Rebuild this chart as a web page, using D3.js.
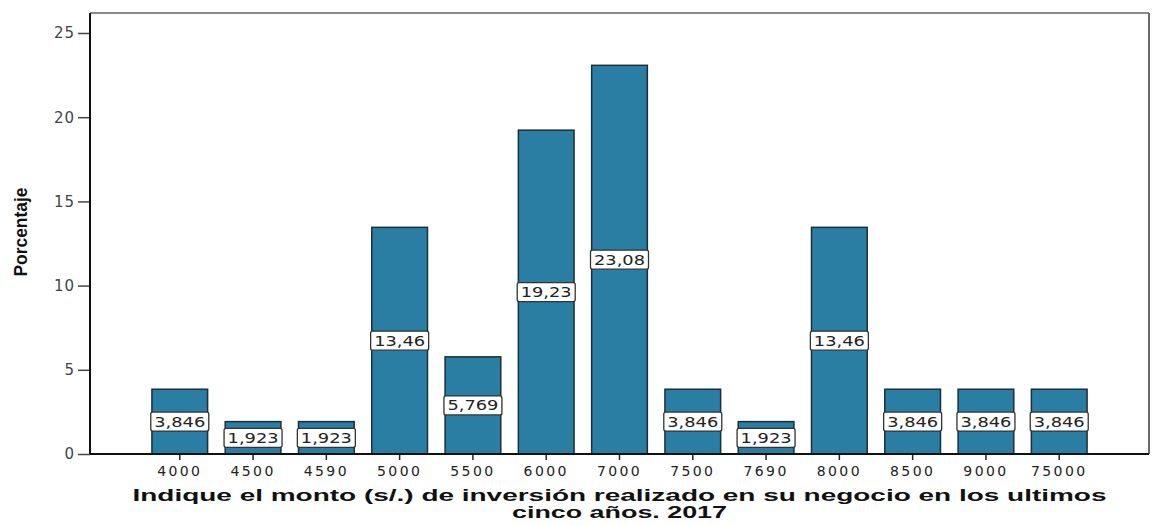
<!DOCTYPE html>
<html>
<head>
<meta charset="utf-8">
<script src="https://cdn.jsdelivr.net/npm/d3@7"></script>
<style>
  html, body { margin: 0; padding: 0; background: #fff; }
  svg { display: block; }
</style>
</head>
<body>
<svg id="chart" width="1156" height="525"></svg>
<script>
// Investment amounts (categories) and percentage of respondents
const categories = ["4000", "4500", "4590", "5000", "5500", "6000", "7000", "7500", "7690", "8000", "8500", "9000", "75000"];
const percentages = [3.846, 1.923, 1.923, 13.46, 5.769, 19.23, 23.08, 3.846, 1.923, 13.46, 3.846, 3.846, 3.846];
const yTicks = [0, 5, 10, 15, 20, 25];
const xTitleLines = ["Indique el monto (s/.) de inversión realizado en su negocio en los ultimos", "cinco años. 2017"];
const yTitle = "Porcentaje";

const svg = d3.select("#chart");
const frame = { left: 90, right: 1149, top: 13, bottom: 454 };

const x = d3.scaleBand()
  .domain(categories)
  .range([frame.left, frame.right])
  .paddingInner(0.24)
  .paddingOuter(0.845);

const y = d3.scaleLinear()
  .domain([0, 25])
  .range([frame.bottom, frame.bottom - 421]);

// Decimal comma formatting, e.g. 3,846
const fmt = v => String(v).replace(".", ",");

// Frame: top and right edges in grey
svg.append("line")
  .attr("x1", frame.left).attr("x2", frame.right)
  .attr("y1", frame.top).attr("y2", frame.top)
  .attr("stroke", "#8a8a8a").attr("stroke-width", 2);
svg.append("line")
  .attr("x1", frame.right).attr("x2", frame.right)
  .attr("y1", frame.top).attr("y2", frame.bottom)
  .attr("stroke", "#6a6a6a").attr("stroke-width", 2);

// Bars
svg.append("g").selectAll("rect")
  .data(categories)
  .join("rect")
  .attr("x", d => x(d))
  .attr("width", x.bandwidth())
  .attr("y", (d, i) => y(percentages[i]))
  .attr("height", (d, i) => y(0) - y(percentages[i]))
  .attr("fill", "#2a7ea3")
  .attr("stroke", "#1b2f38")
  .attr("stroke-width", 1.5);

// Y axis
const yAxis = svg.append("g")
  .attr("transform", `translate(${frame.left},0)`)
  .call(d3.axisLeft(y).tickValues(yTicks).tickSize(12).tickPadding(3).tickFormat(d3.format("d")));
yAxis.select(".domain").remove();
yAxis.selectAll(".tick line").attr("stroke", "#444").attr("stroke-width", 1.5);
yAxis.selectAll(".tick text")
  .attr("fill", "#444")
  .style("font-family", "'DejaVu Sans', Arial, sans-serif")
  .style("font-size", "15px")
  .style("letter-spacing", "1px");
svg.append("line")
  .attr("x1", frame.left).attr("x2", frame.left)
  .attr("y1", frame.top).attr("y2", frame.bottom)
  .attr("stroke", "#111").attr("stroke-width", 2);

// X axis
const xAxis = svg.append("g")
  .attr("transform", `translate(0,${frame.bottom})`)
  .call(d3.axisBottom(x).tickSize(6).tickPadding(6));
xAxis.select(".domain").remove();
xAxis.selectAll(".tick line").attr("stroke", "#222").attr("stroke-width", 1.5);
xAxis.selectAll(".tick text")
  .attr("fill", "#222")
  .style("font-family", "'DejaVu Sans', Arial, sans-serif")
  .style("font-size", "14px")
  .style("letter-spacing", "2.4px");
svg.append("line")
  .attr("x1", frame.left).attr("x2", frame.right)
  .attr("y1", frame.bottom).attr("y2", frame.bottom)
  .attr("stroke", "#111").attr("stroke-width", 2);

// Value labels in white boxes at each bar's mid-height
const labels = svg.append("g").selectAll("g")
  .data(categories)
  .join("g")
  .attr("transform", (d, i) => `translate(${x(d) + x.bandwidth() / 2},${y(percentages[i] / 2)})`);

labels.append("rect")
  .attr("x", -29).attr("y", -9.5)
  .attr("width", 58).attr("height", 19)
  .attr("rx", 2)
  .attr("fill", "#fff")
  .attr("stroke", "#333")
  .attr("stroke-width", 1.3);

labels.append("text")
  .attr("text-anchor", "middle")
  .attr("dy", "0.36em")
  .attr("fill", "#222")
  .attr("textLength", 51)
  .attr("lengthAdjust", "spacingAndGlyphs")
  .style("font-family", "'DejaVu Sans', Arial, sans-serif")
  .style("font-size", "14px")
  .text((d, i) => fmt(percentages[i]));

// Axis titles
const cx = (frame.left + frame.right) / 2;
svg.append("text")
  .attr("x", cx).attr("y", 501)
  .attr("text-anchor", "middle")
  .attr("textLength", 974)
  .attr("lengthAdjust", "spacingAndGlyphs")
  .style("font-family", "'Liberation Sans', Arial, sans-serif")
  .style("font-weight", "bold")
  .style("font-size", "16px")
  .attr("fill", "#111")
  .text(xTitleLines[0]);
svg.append("text")
  .attr("x", cx).attr("y", 518)
  .attr("text-anchor", "middle")
  .attr("textLength", 215)
  .attr("lengthAdjust", "spacingAndGlyphs")
  .style("font-family", "'Liberation Sans', Arial, sans-serif")
  .style("font-weight", "bold")
  .style("font-size", "16px")
  .attr("fill", "#111")
  .text(xTitleLines[1]);

svg.append("text")
  .attr("transform", "translate(27,232) rotate(-90)")
  .attr("text-anchor", "middle")
  .attr("textLength", 89)
  .attr("lengthAdjust", "spacingAndGlyphs")
  .style("font-family", "'Liberation Sans Narrow', 'Liberation Sans', Arial, sans-serif")
  .style("font-weight", "bold")
  .style("font-size", "18px")
  .attr("fill", "#111")
  .text(yTitle);
</script>
</body>
</html>
